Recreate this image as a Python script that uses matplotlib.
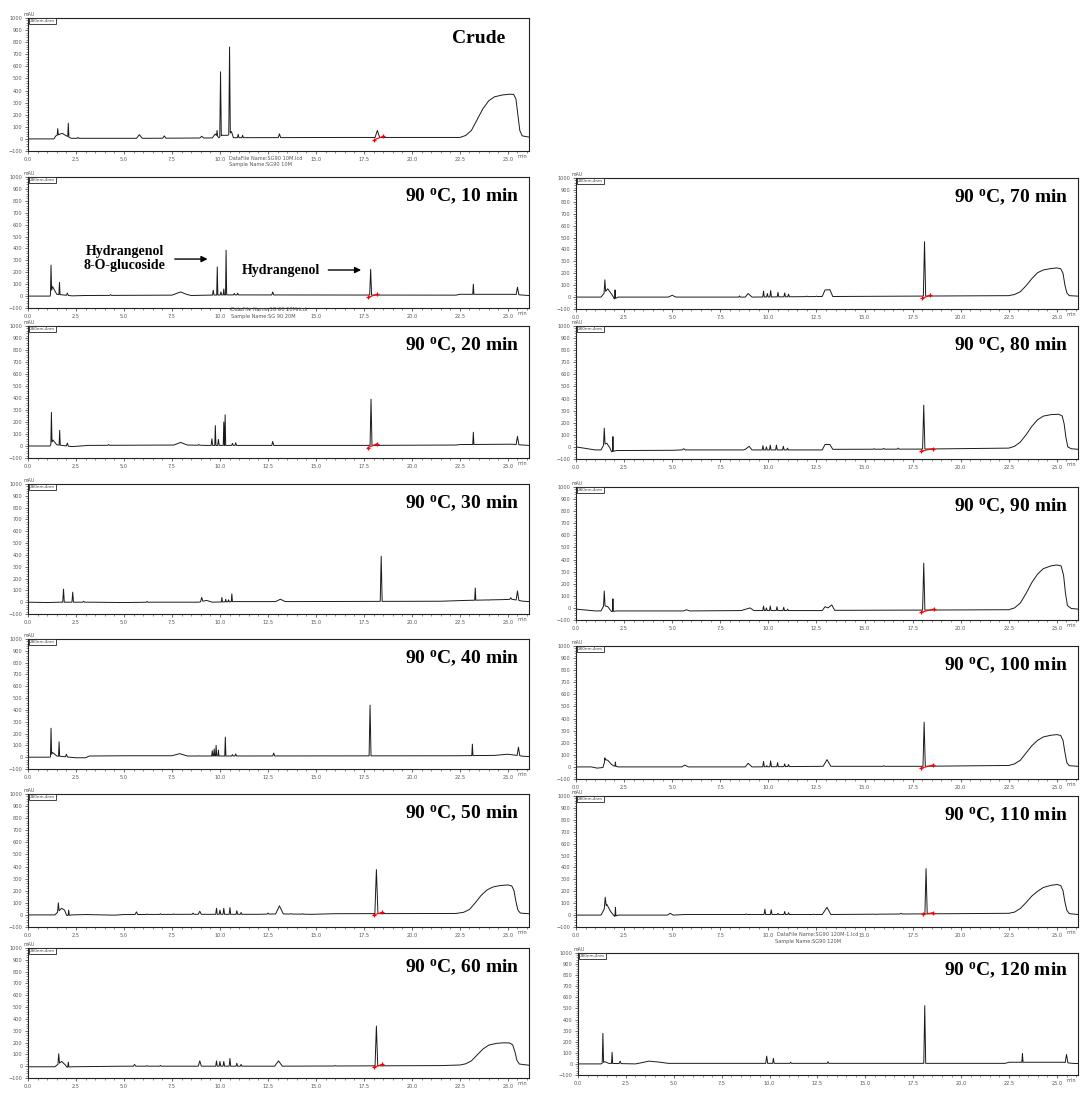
import matplotlib.pyplot as plt
import numpy as np
from matplotlib.ticker import MultipleLocator

plt.rcParams['font.family'] = ['DejaVu Sans']
plt.rcParams['mathtext.fontset'] = 'custom'
plt.rcParams['mathtext.rm'] = 'Liberation Serif:bold'
plt.rcParams['mathtext.it'] = 'Liberation Serif:bold'
plt.rcParams['mathtext.bf'] = 'Liberation Serif:bold'

# background trace (time min, mAU) incl. broad features and gradient hump
bg_crude = [(0, 0), (1.35, 0), (1.45, 25), (1.7, 42), (1.8, 45), (1.95, 30), (2.25, 5), (3.0, 5),
            (5.65, 5), (5.8, 35), (5.95, 5), (9.6, 8), (9.75, 40), (9.95, 10), (10.1, 30), (10.42, 30),
            (10.6, 60), (10.7, 10), (16.5, 12), (22.5, 12), (22.8, 28), (23.1, 70), (23.4, 160),
            (23.7, 250), (24.0, 315), (24.3, 348), (24.7, 363), (25.1, 370), (25.3, 368),
            (25.42, 330), (25.52, 200), (25.62, 70), (25.75, 25), (26.1, 15)]
peaks_crude = [(1.55, 85, 0.03), (2.1, 130, 0.03), (2.6, 12, 0.05), (7.1, 25, 0.08), (9.05, 22, 0.1),
               (9.85, 70, 0.03), (10.03, 555, 0.04), (10.5, 760, 0.04), (10.95, 38, 0.04),
               (11.18, 30, 0.04), (13.1, 42, 0.06), (18.2, 70, 0.12)]
marks_crude = [(18.05, -5), (18.5, 20)]

bg_10 = [(0, 0), (1.15, 0), (1.28, 80), (1.5, 15), (2.3, 2), (3.0, 5), (7.5, 8), (7.7, 20), (7.95, 35),
         (8.25, 15), (8.5, 5), (9.4, 8), (10.35, 10), (22.3, 8), (22.5, 15), (25.3, 15), (25.8, 8),
         (26.1, 5)]
peaks_10 = [(1.2, 260, 0.03), (1.64, 115, 0.03), (2.05, 25, 0.05), (4.3, 12, 0.05), (9.65, 50, 0.04),
            (9.86, 245, 0.03), (10.05, 35, 0.04), (10.2, 60, 0.03), (10.32, 385, 0.03),
            (10.75, 22, 0.04), (10.92, 25, 0.04), (12.75, 35, 0.05), (17.85, 225, 0.05),
            (23.2, 100, 0.03), (25.5, 75, 0.07)]
marks_10 = [(17.72, -10), (18.2, 15)]

bg_20 = [(0, 0), (1.15, 0), (1.3, 50), (1.5, 10), (2.3, -5), (3.0, 3), (3.1, 5), (7.6, 8), (7.95, 30),
         (8.3, 8), (9.4, 5), (10.5, 5), (16.8, 5), (17.4, 5), (22.3, 8), (22.5, 12), (25.2, 15),
         (25.8, 8), (26.1, 5)]
peaks_20 = [(1.22, 280, 0.03), (1.65, 130, 0.03), (2.05, 25, 0.05), (4.2, 12, 0.05), (8.9, 12, 0.05),
            (9.58, 60, 0.04), (9.76, 170, 0.03), (9.92, 55, 0.04), (10.2, 200, 0.03),
            (10.27, 260, 0.03), (10.65, 22, 0.04), (10.82, 28, 0.04), (12.75, 38, 0.05),
            (17.87, 390, 0.05), (23.2, 115, 0.03), (25.5, 80, 0.07)]
marks_20 = [(17.7, -15), (18.2, 20)]

bg_30 = [(0, 0), (1.0, -3), (1.7, 0), (2.6, 0), (3.3, 0), (5.0, -3), (6.5, 0), (8.9, 0), (9.3, 15),
         (9.6, 0), (10.8, 5), (12.9, 5), (13.15, 25), (13.4, 5), (21.5, 8), (22.8, 15), (24.8, 22),
         (25.2, 25), (25.8, 8), (26.1, 5)]
peaks_30 = [(1.85, 110, 0.04), (2.33, 85, 0.04), (2.9, 8, 0.05), (6.2, 6, 0.05), (9.05, 40, 0.06),
            (10.1, 40, 0.03), (10.3, 25, 0.03), (10.45, 20, 0.03), (10.62, 70, 0.03),
            (18.4, 390, 0.05), (23.3, 120, 0.03), (24.0, 18, 0.04), (25.15, 38, 0.05),
            (25.5, 95, 0.07)]
marks_30 = None

bg_40 = [(0, 0), (1.15, 0), (1.28, 40), (1.5, 10), (2.5, -5), (3.0, -5), (3.2, 10), (5.0, 12),
         (7.5, 12), (7.9, 30), (8.3, 10), (9.4, 10), (10.5, 10), (22.2, 12), (24.3, 15), (25.0, 25),
         (25.8, 8), (26.1, 5)]
peaks_40 = [(1.2, 245, 0.03), (1.62, 130, 0.03), (2.0, 25, 0.05), (8.9, 12, 0.05), (9.6, 55, 0.03),
            (9.7, 70, 0.03), (9.8, 100, 0.03), (9.92, 60, 0.03), (10.28, 170, 0.03),
            (10.65, 22, 0.04), (10.82, 28, 0.04), (12.8, 35, 0.05), (17.82, 440, 0.05),
            (23.15, 110, 0.03), (25.55, 85, 0.07)]
marks_40 = None

bg_50 = [(0, 0), (1.4, 0), (1.75, 55), (1.9, 40), (2.02, -5), (2.3, 0), (3.0, 3), (4.5, -2), (5.0, 3),
         (8.3, 5), (12.0, 5), (12.9, 8), (13.1, 75), (13.3, 8), (14.8, 5), (16.0, 10), (22.3, 12),
         (22.7, 22), (23.0, 45), (23.3, 100), (23.6, 160), (23.9, 205), (24.2, 230), (24.6, 243),
         (25.0, 248), (25.2, 240), (25.32, 200), (25.42, 110), (25.52, 40), (25.65, 15),
         (26.1, 10)]
peaks_50 = [(1.58, 100, 0.04), (2.12, 40, 0.03), (5.65, 25, 0.07), (6.2, 8, 0.04), (6.9, 10, 0.04),
            (7.6, 8, 0.04), (8.6, 15, 0.05), (8.95, 30, 0.08), (9.82, 55, 0.04), (10.0, 40, 0.04),
            (10.2, 55, 0.04), (10.52, 60, 0.04), (10.88, 35, 0.04), (11.1, 20, 0.04),
            (12.5, 15, 0.05), (13.7, 10, 0.05), (14.3, 10, 0.05), (18.15, 375, 0.08)]
marks_50 = [(18.0, 0), (18.45, 20)]

bg_60 = [(0, -5), (1.4, -5), (1.75, 40), (1.95, 10), (2.02, -8), (2.3, -5), (5.0, 0), (12.85, 0),
         (13.05, 45), (13.25, 0), (21.5, 5), (22.5, 10), (22.8, 20), (23.1, 45), (23.4, 95),
         (23.7, 145), (24.0, 178), (24.4, 193), (24.8, 198), (25.1, 196), (25.25, 180),
         (25.37, 120), (25.47, 50), (25.6, 18), (26.1, 8)]
peaks_60 = [(1.6, 105, 0.04), (2.1, 35, 0.03), (5.55, 15, 0.06), (6.2, 5, 0.04), (6.9, 6, 0.04),
            (8.95, 45, 0.08), (9.82, 45, 0.04), (10.0, 40, 0.04), (10.2, 40, 0.04), (10.52, 65, 0.04),
            (10.88, 25, 0.04), (11.1, 15, 0.04), (16.0, 5, 0.05), (18.15, 340, 0.07)]
marks_60 = [(18.0, -10), (18.45, 15)]

bg_70 = [(0, 0), (1.3, 0), (1.45, 30), (1.65, 70), (1.85, 25), (2.0, -15), (2.2, 0), (4.8, 0),
         (5.0, 15), (5.2, 0), (8.8, 0), (8.95, 30), (9.15, 0), (12.8, 5), (12.95, 60), (13.2, 62),
         (13.35, 5), (22.5, 12), (22.8, 22), (23.1, 45), (23.4, 95), (23.7, 155), (24.0, 205),
         (24.3, 228), (24.7, 240), (25.0, 245), (25.2, 238), (25.32, 200), (25.42, 100),
         (25.52, 35), (25.65, 12), (26.1, 8)]
peaks_70 = [(1.5, 145, 0.04), (2.03, 60, 0.025), (8.5, 10, 0.04), (9.75, 50, 0.04), (9.95, 30, 0.04),
            (10.12, 55, 0.04), (10.5, 40, 0.04), (10.85, 35, 0.04), (11.05, 25, 0.04),
            (12.0, 8, 0.05), (12.5, 8, 0.05), (18.12, 465, 0.06)]
marks_70 = [(18.0, -10), (18.4, 15)]

bg_80 = [(0, 0), (1.0, -25), (1.3, -25), (1.45, 20), (1.6, 30), (1.75, -5), (1.85, -40), (2.1, -30),
         (5.0, -28), (5.5, -25), (8.7, -25), (8.8, -20), (9.0, 5), (9.15, -25), (12.8, -25),
         (12.95, 20), (13.2, 20), (13.35, -20), (17.9, -18), (22.5, -10), (22.8, 5), (23.1, 40),
         (23.4, 100), (23.7, 170), (24.0, 225), (24.3, 255), (24.7, 267), (25.1, 270),
         (25.28, 255), (25.38, 190), (25.47, 80), (25.57, 0), (25.75, -15), (26.1, -20)]
peaks_80 = [(1.47, 155, 0.04), (1.92, 85, 0.025), (5.6, -15, 0.08), (9.72, 10, 0.04), (9.9, 0, 0.04),
            (10.1, 15, 0.04), (10.42, 15, 0.04), (10.78, 5, 0.04), (11.0, -10, 0.04),
            (15.5, -15, 0.05), (16.0, -12, 0.05), (16.75, -10, 0.05), (18.08, 345, 0.06)]
marks_80 = [(17.95, -35), (18.55, -15)]

bg_90 = [(0, -10), (1.0, -25), (1.3, -25), (1.45, 20), (1.65, 10), (1.85, -30), (2.1, -25), (5.6, -25),
         (5.75, -15), (5.9, -25), (8.6, -22), (9.05, 0), (9.25, -22), (12.8, -22), (12.95, 10),
         (13.1, 0), (13.3, 25), (13.45, -20), (17.9, -18), (22.5, -15), (22.8, 0), (23.1, 40),
         (23.4, 120), (23.7, 210), (24.0, 280), (24.3, 325), (24.7, 348), (25.0, 355),
         (25.22, 348), (25.35, 270), (25.45, 120), (25.55, 20), (25.75, -5), (26.1, -10)]
peaks_90 = [(1.47, 140, 0.04), (1.92, 75, 0.025), (8.7, -15, 0.04), (9.75, 15, 0.04), (9.9, 0, 0.04),
            (10.1, 15, 0.04), (10.45, 10, 0.04), (10.8, 5, 0.04), (11.0, -10, 0.04),
            (18.08, 370, 0.06)]
marks_90 = [(17.95, -35), (18.6, -10)]

bg_100 = [(0, 0), (0.8, 0), (1.1, -10), (1.4, -5), (1.52, 60), (1.65, 55), (1.85, 20), (1.97, 8),
          (2.2, 0), (5.5, 0), (5.65, 15), (5.85, 0), (8.8, 0), (8.95, 30), (9.15, 0), (12.85, 5),
          (13.05, 60), (13.25, 5), (17.9, 5), (22.5, 12), (22.8, 25), (23.1, 55), (23.4, 115),
          (23.7, 175), (24.0, 220), (24.3, 248), (24.7, 262), (25.0, 267), (25.2, 260),
          (25.32, 220), (25.42, 120), (25.52, 35), (25.65, 10), (26.1, 5)]
peaks_100 = [(1.5, 75, 0.02), (2.05, 40, 0.025), (9.75, 45, 0.04), (9.92, 10, 0.04),
             (10.12, 50, 0.04), (10.48, 35, 0.04), (10.85, 25, 0.04), (11.05, 20, 0.04),
             (15.5, 5, 0.05), (16.0, 10, 0.05), (18.1, 370, 0.06)]
marks_100 = [(17.95, -10), (18.55, 15)]

bg_110 = [(0, 0), (1.3, 0), (1.6, 90), (1.8, 30), (2.0, -10), (2.2, 0), (4.75, 0), (4.9, 15),
          (5.05, 0), (5.7, 5), (12.8, 5), (13.05, 65), (13.25, 5), (22.5, 15), (22.8, 25),
          (23.1, 55), (23.4, 105), (23.7, 160), (24.0, 200), (24.3, 232), (24.7, 250), (25.0, 257),
          (25.2, 248), (25.32, 205), (25.42, 110), (25.52, 40), (25.65, 12), (26.1, 5)]
peaks_110 = [(1.52, 150, 0.05), (2.05, 65, 0.025), (8.85, 10, 0.04), (9.82, 50, 0.04),
             (10.15, 45, 0.04), (10.5, 15, 0.04), (10.85, 30, 0.04), (11.05, 20, 0.04),
             (12.35, 8, 0.05), (15.6, 5, 0.05), (16.2, 8, 0.05), (16.9, 15, 0.06),
             (18.2, 390, 0.06)]
marks_110 = [(18.05, 5), (18.55, 20)]

bg_120 = [(0, 0), (1.2, 0), (1.4, 20), (1.6, 5), (3.0, 0), (3.3, 10), (3.7, 25), (4.3, 15), (4.7, 5),
          (22.3, 5), (22.5, 15), (25.3, 15), (25.8, 5), (26.1, 3)]
peaks_120 = [(1.3, 275, 0.035), (1.78, 105, 0.03), (2.2, 25, 0.05), (7.8, 5, 0.05), (9.85, 70, 0.05),
             (10.2, 50, 0.04), (11.1, 15, 0.04), (13.05, 20, 0.04), (18.1, 525, 0.05),
             (23.2, 95, 0.03), (25.5, 85, 0.07)]
marks_120 = None

labels = ['Crude'] + ['90 $^{\\mathrm{o}}$C, %d min' % m for m in range(10, 130, 10)]
bgs = [bg_crude, bg_10, bg_20, bg_30, bg_40, bg_50, bg_60,
       bg_70, bg_80, bg_90, bg_100, bg_110, bg_120]
peaks = [peaks_crude, peaks_10, peaks_20, peaks_30, peaks_40, peaks_50, peaks_60,
         peaks_70, peaks_80, peaks_90, peaks_100, peaks_110, peaks_120]
marks = [marks_crude, marks_10, marks_20, marks_30, marks_40, marks_50, marks_60,
         marks_70, marks_80, marks_90, marks_100, marks_110, marks_120]
time_ticks = [0.0, 2.5, 5.0, 7.5, 10.0, 12.5, 15.0, 17.5, 20.0, 22.5, 25.0]

# panel boxes in pixels: left, top, right, bottom
W, H = 1081, 1095
boxes = [(28, 18, 529, 151), (28, 177, 529, 308), (28, 326, 529, 458), (28, 484, 529, 614),
         (28, 639, 529, 769), (28, 794, 529, 927), (28, 948, 529, 1078),
         (576, 178, 1078, 309), (576, 326, 1078, 459), (576, 487, 1078, 620),
         (576, 646, 1078, 779), (576, 796, 1078, 927), (578, 953, 1078, 1075)]
# panels whose 12.5 label sits under the instrument caption
covered = [0, 1, 11]


def build_trace(bg, pk):
    bt = np.array([p[0] for p in bg])
    by = np.array([p[1] for p in bg])
    pts = [p for p in bg if all(abs(p[0] - rt) >= w for rt, _, w in pk)]
    for rt, apex, w in pk:
        pts.append((rt - w, float(np.interp(rt - w, bt, by))))
        pts.append((rt, apex))
        pts.append((rt + w, float(np.interp(rt + w, bt, by))))
    pts.sort(key=lambda p: p[0])
    return [p[0] for p in pts], [p[1] for p in pts]


fig = plt.figure(figsize=(W / 100, H / 100), dpi=100)
tick_col = '#555555'
axes = []
for i, (l, t, r, b) in enumerate(boxes):
    ax = fig.add_axes([l / W, 1 - b / H, (r - l) / W, (b - t) / H])
    x, y = build_trace(bgs[i], peaks[i])
    ax.plot(x, y, color='#1a1a1a', lw=0.7)
    if marks[i] is not None:
        mx = [m[0] for m in marks[i]]
        my = [m[1] for m in marks[i]]
        ax.plot(mx, my, color='red', lw=0.8, marker='+', ms=3.5, mew=0.9)
    ax.set_xlim(0, 26.1)
    ax.set_ylim(-100, 1000)
    ax.xaxis.set_minor_locator(MultipleLocator(0.5))
    ax.yaxis.set_major_locator(MultipleLocator(100))
    ax.yaxis.set_minor_locator(MultipleLocator(20))
    ax.set_xticks(time_ticks)
    ax.set_xticklabels(['' if (i in covered and v == 12.5) else '%.1f' % v for v in time_ticks])
    ax.tick_params(which='major', length=2.5, width=0.5, pad=1.5, labelsize=3.6,
                   labelcolor=tick_col, color='#333333')
    ax.tick_params(which='minor', length=1.2, width=0.4, color='#333333')
    for s in ax.spines.values():
        s.set_linewidth(0.8)
        s.set_color('#222222')
    ax.annotate('min', xy=(1, 0), xycoords='axes fraction', xytext=(-1, -2.5),
                textcoords='offset points', ha='right', va='top', fontsize=3.6, color=tick_col)
    ax.annotate('mAU', xy=(0, 1), xycoords='axes fraction', xytext=(-3, 0.5),
                textcoords='offset points', ha='left', va='bottom', fontsize=3.4, color=tick_col)
    ax.text(0.004, 0.993, '280nm,4nm', transform=ax.transAxes, ha='left', va='top',
            fontsize=3, color='#444444',
            bbox=dict(boxstyle='square,pad=0.2', fc='white', ec='#222222', lw=0.6))
    xr = 0.952 if i == 0 else 0.98
    ax.text(xr, 0.81, labels[i], transform=ax.transAxes, ha='right', va='baseline',
            fontsize=14, family='Liberation Serif', fontweight='bold')
    axes.append(ax)

# compound labels on the 10 min trace
serif_bold = dict(family='Liberation Serif', fontweight='bold', fontsize=10)
ax10 = axes[1]
ax10.text(5.05, 316, 'Hydrangenol\n8-O-glucoside', ha='center', va='center',
          linespacing=1.15, **serif_bold)
ax10.annotate('', xy=(9.5, 311), xytext=(7.5, 311),
              arrowprops=dict(arrowstyle='-|>', lw=1.0, color='black', mutation_scale=9))
ax10.text(13.2, 219, 'Hydrangenol', ha='center', va='center', **serif_bold)
ax10.annotate('', xy=(17.5, 219), xytext=(15.5, 219),
              arrowprops=dict(arrowstyle='-|>', lw=1.0, color='black', mutation_scale=9))

# instrument file captions
cap = dict(fontsize=3.6, color='#555555', ha='left', va='center')
fig.text(229 / W, 1 - 158 / H, 'DataFile Name:SG90 10M.lcd', **cap)
fig.text(229 / W, 1 - 165 / H, 'Sample Name:SG90 10M', **cap)
fig.text(231 / W, 1 - 309 / H, 'DataFile Name:SG 90 20M.lcd', **cap)
fig.text(231 / W, 1 - 316 / H, 'Sample Name:SG 90 20M', **cap)
fig.text(777 / W, 1 - 935 / H, 'DataFile Name:SG90 120M-1.lcd', **cap)
fig.text(775 / W, 1 - 942 / H, 'Sample Name:SG90 120M', **cap)

fig.savefig('out.png', dpi=100, facecolor='white')
